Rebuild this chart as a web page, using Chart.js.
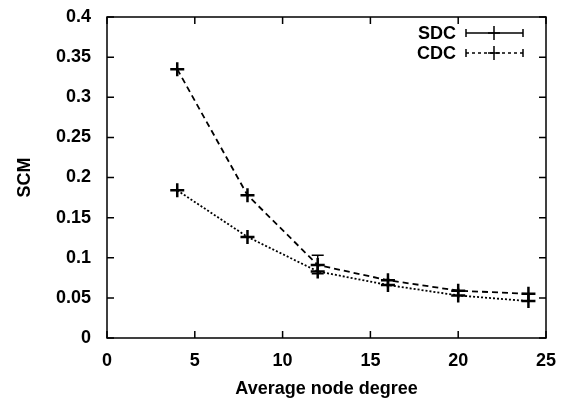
<!DOCTYPE html>
<html><head><meta charset="utf-8">
<script src="https://cdn.jsdelivr.net/npm/chart.js@4/dist/chart.umd.min.js"></script>
<style>html,body{margin:0;padding:0;background:#fff}#wrap{width:561px;height:400px}</style>
</head><body><div id="wrap"><canvas id="c"></canvas></div>
<script>
const xValues = [4, 8, 12, 16, 20, 24];
const sdcValues = [0.335, 0.178, 0.091, 0.072, 0.059, 0.055];
const cdcValues = [0.184, 0.126, 0.083, 0.066, 0.053, 0.046];
const sdcErrLow = [0.335, 0.178, 0.080, 0.072, 0.059, 0.055];
const sdcErrHigh = [0.335, 0.178, 0.103, 0.072, 0.059, 0.055];
const seriesNames = ['SDC', 'CDC'];
const xTitle = 'Average node degree';
const yTitle = 'SCM';

const FONT = {family: 'Liberation Sans, Arial, sans-serif', size: 18, weight: 'bold'};

const framePlugin = {
  id: 'frame',
  afterDatasetsDraw(chart) {
    const {ctx, chartArea: a, scales} = chart;
    ctx.save();
    ctx.strokeStyle = '#000';
    ctx.lineWidth = 1.5;
    ctx.setLineDash([]);
    ctx.strokeRect(a.left, a.top, a.right - a.left, a.bottom - a.top);
    const L = 7;
    ctx.beginPath();
    scales.x.ticks.forEach(t => {
      const px = scales.x.getPixelForValue(t.value);
      ctx.moveTo(px, a.bottom); ctx.lineTo(px, a.bottom - L);
      ctx.moveTo(px, a.top); ctx.lineTo(px, a.top + L);
    });
    scales.y.ticks.forEach(t => {
      const py = scales.y.getPixelForValue(t.value);
      ctx.moveTo(a.left, py); ctx.lineTo(a.left + L, py);
      ctx.moveTo(a.right, py); ctx.lineTo(a.right - L, py);
    });
    ctx.stroke();
    // error bars
    ctx.lineWidth = 1.5;
    ctx.beginPath();
    xValues.forEach((x, i) => {
      if (sdcErrHigh[i] === sdcErrLow[i]) return;
      const px = scales.x.getPixelForValue(x);
      const lo = scales.y.getPixelForValue(sdcErrLow[i]);
      const hi = scales.y.getPixelForValue(sdcErrHigh[i]);
      ctx.moveTo(px, lo); ctx.lineTo(px, hi);
      ctx.moveTo(px - 6, hi); ctx.lineTo(px + 6, hi);
      ctx.moveTo(px - 6, lo); ctx.lineTo(px + 6, lo);
    });
    ctx.stroke();
    // legend
    ctx.font = `${FONT.weight} ${FONT.size}px ${FONT.family}`;
    ctx.fillStyle = '#000';
    ctx.textAlign = 'right';
    ctx.textBaseline = 'middle';
    const rows = [[seriesNames[0], 33, []], [seriesNames[1], 53, [3, 3]]];
    rows.forEach(([name, y, dash]) => {
      ctx.fillText(name, 456, y + 1);
      ctx.setLineDash(dash);
      ctx.beginPath(); ctx.moveTo(466, y); ctx.lineTo(523, y); ctx.stroke();
      ctx.setLineDash([]);
      ctx.beginPath();
      ctx.moveTo(466, y - 4); ctx.lineTo(466, y + 4);
      ctx.moveTo(523, y - 4); ctx.lineTo(523, y + 4);
      ctx.moveTo(494, y - 7); ctx.lineTo(494, y + 7);
      ctx.moveTo(488, y); ctx.lineTo(500, y);
      ctx.stroke();
    });
    ctx.restore();
  }
};

new Chart(document.getElementById('c'), {
  type: 'scatter',
  data: {
    datasets: [
      {label: seriesNames[0], data: xValues.map((x, i) => ({x, y: sdcValues[i]})),
       showLine: true, borderColor: '#000', borderWidth: 1.8, borderDash: [6, 4],
       pointStyle: 'cross', pointRadius: 7, pointBorderWidth: 2.5, pointBorderColor: '#000', backgroundColor: '#000'},
      {label: seriesNames[1], data: xValues.map((x, i) => ({x, y: cdcValues[i]})),
       showLine: true, borderColor: '#000', borderWidth: 1.8, borderDash: [2, 2],
       pointStyle: 'cross', pointRadius: 7, pointBorderWidth: 2.5, pointBorderColor: '#000', backgroundColor: '#000'}
    ]
  },
  options: {
    responsive: true, maintainAspectRatio: false, animation: false,
    layout: {padding: {left: 0, right: 15, top: 17, bottom: 0}},
    plugins: {legend: {display: false}, tooltip: {enabled: false}},
    scales: {
      x: {
        type: 'linear', min: 0, max: 25,
        ticks: {stepSize: 5, color: '#000', font: FONT, padding: 12, maxRotation: 0},
        grid: {display: false, drawTicks: false},
        border: {display: false},
        title: {display: true, text: xTitle, color: '#000', font: FONT, padding: {top: 0, bottom: 0}},
        afterFit(s) { s.height = 62; s.paddingLeft = 0; s.paddingRight = 0; }
      },
      y: {
        type: 'linear', min: 0, max: 0.4,
        ticks: {stepSize: 0.05, color: '#000', font: FONT, padding: 16,
                callback: v => String(Number(v.toFixed(2)))},
        grid: {display: false, drawTicks: false},
        border: {display: false},
        title: {display: true, text: yTitle, color: '#000', font: FONT, padding: {top: 14, bottom: 0}},
        afterFit(s) { s.width = 107; s.paddingTop = 0; s.paddingBottom = 0; }
      }
    }
  },
  plugins: [framePlugin]
});
</script></body></html>
